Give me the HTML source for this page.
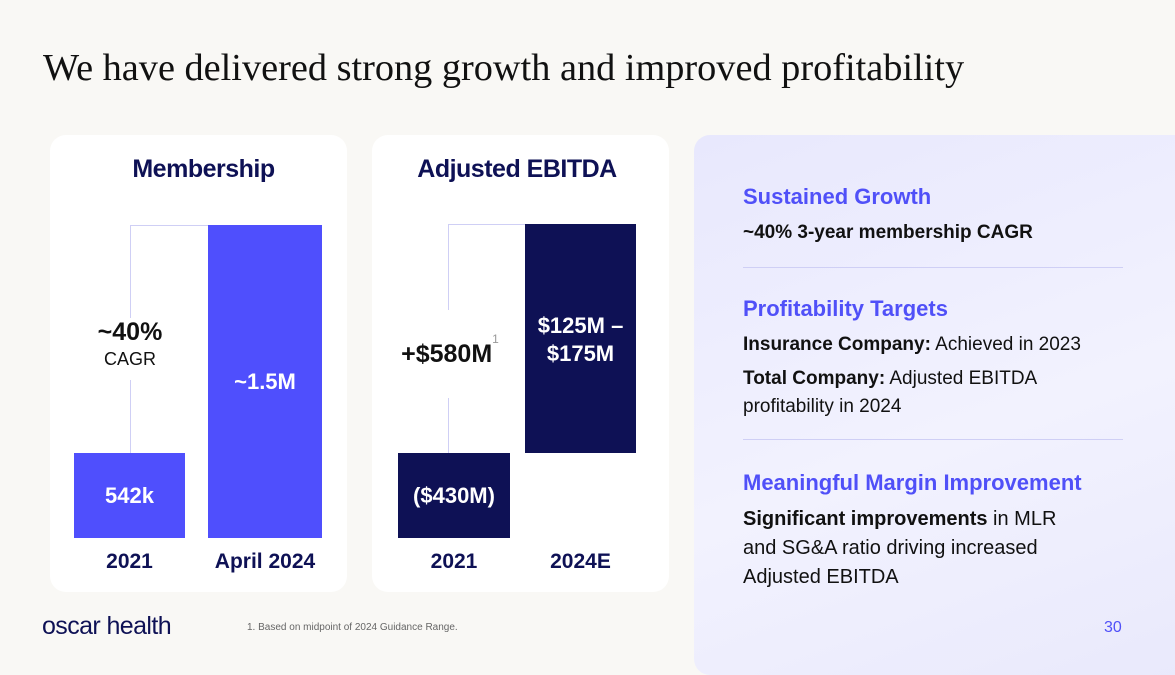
<!DOCTYPE html>
<html><head><meta charset="utf-8"><style>
body{margin:0;width:1175px;height:660px;background:#f9f8f5;position:relative;overflow:hidden;font-family:"Liberation Sans",sans-serif}
.abs{position:absolute}
.card{position:absolute;top:135px;width:297px;height:457px;background:#fff;border-radius:16px}
.ct{position:absolute;top:155px;font-weight:bold;font-size:25px;color:#0e1155;text-align:center;letter-spacing:-0.5px}
.xl{position:absolute;top:550px;font-weight:bold;font-size:21px;color:#0e1155;text-align:center;width:140px}
.bl{position:absolute;color:#fff;font-weight:bold;font-size:22px;text-align:center;display:flex;align-items:center;justify-content:center;line-height:28px}
.h{position:absolute;left:743px;font-weight:bold;font-size:22px;color:#5050f8}
.p{position:absolute;left:743px;font-size:19px;color:#111;line-height:28px}
</style></head><body>
<div class="abs" style="left:43px;top:46px;font-family:'Liberation Serif',serif;font-size:38.3px;color:#111">We have delivered strong growth and improved profitability</div>
<div class="card" style="left:50px"></div>
<div class="card" style="left:372px"></div>
<div class="ct" style="left:50px;width:307px">Membership</div>
<div class="ct" style="left:372px;width:290px">Adjusted EBITDA</div>
<div class="abs" style="left:694px;top:135px;width:500px;height:540px;border-radius:16px;background:linear-gradient(160deg,#e8e8fd 0%,#f2f2fe 55%,#e9e9fc 100%)"></div>
<div id="charts"></div>
<div class="h" style="top:184px">Sustained Growth</div>
<div class="p" style="top:219px;font-weight:bold">~40% 3-year membership CAGR</div>
<div class="abs" style="left:743px;top:267px;width:380px;height:1px;background:#cfcff5"></div>
<div class="h" style="top:296px">Profitability Targets</div>
<div class="p" style="top:331px"><b>Insurance Company:</b> Achieved in 2023</div>
<div class="p" style="top:365px"><b>Total Company:</b> Adjusted EBITDA<br>profitability in 2024</div>
<div class="abs" style="left:743px;top:439px;width:380px;height:1px;background:#cfcff5"></div>
<div class="h" style="top:470px">Meaningful Margin Improvement</div>
<div class="p" style="top:505px;font-size:20px;line-height:29px"><b>Significant improvements</b> in MLR<br>and SG&amp;A ratio driving increased<br>Adjusted EBITDA</div>
<div class="abs" style="left:1104px;top:619px;font-size:16px;color:#5050f8">30</div>
<div class="abs" style="left:247px;top:622px;font-size:10px;color:#666">1. Based on midpoint of 2024 Guidance Range.</div>
<div class="abs" style="left:42px;top:612px;font-size:25px;color:#0e1155;letter-spacing:-0.6px">oscar health</div>
<script>
const memCategories=["2021","April 2024"];
const memValues=[542,1500];
const memLabels=["542k","~1.5M"];
const ebCategories=["2021","2024E"];
const ebValues=[-430,150];
const ebLabels=["($430M)","$125M –<br>$175M"];
const base=538;
const memY=v=>base-(v-185)*0.238;
const ebY=v=>453-(v+430)*0.395;
const root=document.getElementById('charts');
function div(st,html,cls){const d=document.createElement('div');d.className=cls||'abs';d.style.cssText=st;if(html)d.innerHTML=html;root.appendChild(d);return d;}
const memX=[74,208],memW=[111,114];
let c=div(`left:130px;top:${memY(memValues[1])}px;width:78px;height:1px;background:#cfcff5`);


c=div(`left:130px;top:${memY(memValues[1])}px;width:1px;height:${memY(memValues[0])-memY(memValues[1])}px;background:#cfcff5`);


c=div(`left:80px;top:318px;width:100px;height:62px;background:#fff;text-align:center;color:#111`,`<div style="font-weight:bold;font-size:25px">~40%</div><div style="font-size:18px;margin-top:2px">CAGR</div>`);


memValues.forEach((v,i)=>{
 const y=memY(v);
 const b=div(`left:${memX[i]}px;top:${y}px;width:${memW[i]}px;height:${base-y}px;background:#4f4ffd`,memLabels[i],'bl');
 
 
 const l=div(`left:${memX[i]+memW[i]/2-70}px`,memCategories[i],'xl');
 
 
});
const ebX=[398,525],ebW=[112,111];
const y0=ebY(ebValues[0]),y1=ebY(ebValues[1]);
c=div(`left:448px;top:${y1}px;width:77px;height:1px;background:#cfcff5`);


c=div(`left:448px;top:${y1}px;width:1px;height:${y0-y1}px;background:#cfcff5`);


c=div(`left:385px;top:310px;width:130px;height:88px;background:#fff;display:flex;align-items:center;justify-content:center;color:#111;font-weight:bold;font-size:25px`,`+$580M<span style="font-weight:normal;font-size:12px;color:#999;align-self:flex-start;margin-top:22px">1</span>`);


let b=div(`left:${ebX[0]}px;top:${y0}px;width:${ebW[0]}px;height:${base-y0}px;background:#0e1155`,ebLabels[0],'bl');


b=div(`left:${ebX[1]}px;top:${y1}px;width:${ebW[1]}px;height:${y0-y1}px;background:#0e1155;align-items:flex-start;padding-top:88px;box-sizing:border-box`,ebLabels[1],'bl');


ebCategories.forEach((cat,i)=>{
 const l=div(`left:${ebX[i]+ebW[i]/2-70}px`,cat,'xl');
 
 
});
</script>
</body></html>
